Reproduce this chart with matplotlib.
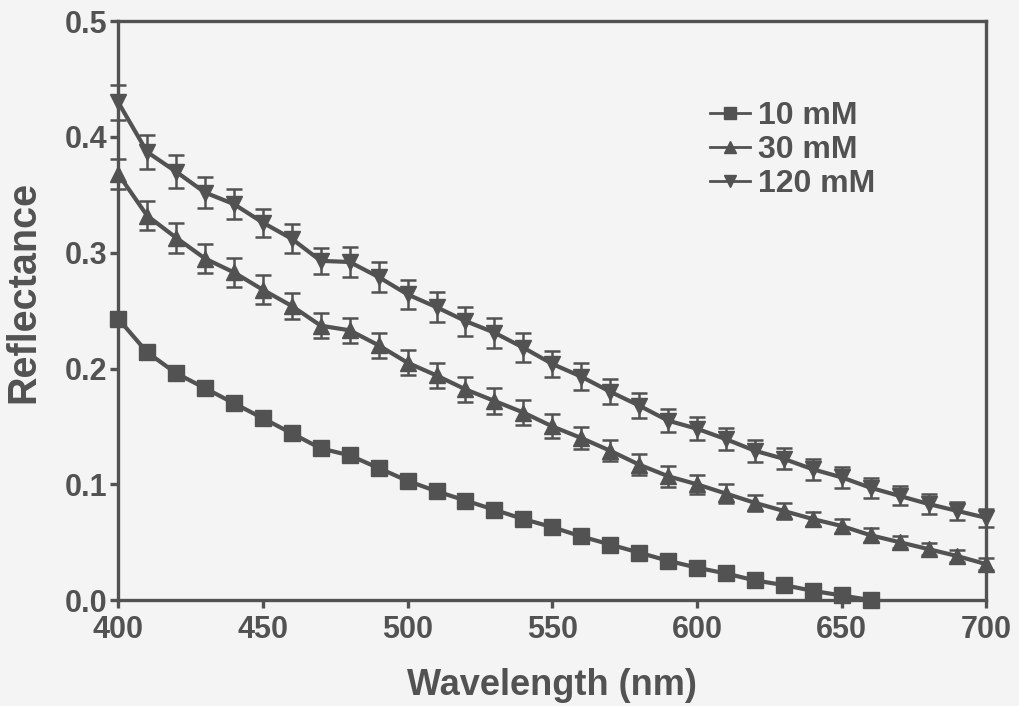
import numpy as np
import matplotlib.pyplot as plt

# wavelengths (nm)
wl = np.arange(400, 710, 10)
wl_10 = np.arange(400, 670, 10)

# reflectance
r_10 = [0.243, 0.214, 0.196, 0.183, 0.170, 0.157, 0.144, 0.131, 0.125, 0.114,
        0.103, 0.094, 0.086, 0.078, 0.070, 0.063, 0.055, 0.048, 0.041, 0.034,
        0.028, 0.023, 0.017, 0.013, 0.008, 0.004, 0.000]
r_30 = [0.368, 0.332, 0.313, 0.295, 0.283, 0.268, 0.254, 0.237, 0.233, 0.220,
        0.205, 0.194, 0.182, 0.172, 0.162, 0.150, 0.140, 0.129, 0.117, 0.107,
        0.100, 0.092, 0.084, 0.077, 0.070, 0.064, 0.056, 0.050, 0.044, 0.038,
        0.031]
r_120 = [0.430, 0.387, 0.370, 0.352, 0.342, 0.326, 0.312, 0.293, 0.292, 0.279,
         0.264, 0.253, 0.241, 0.231, 0.218, 0.204, 0.193, 0.180, 0.168, 0.155,
         0.148, 0.139, 0.129, 0.122, 0.113, 0.106, 0.097, 0.090, 0.083, 0.077,
         0.071]

# error bars (+/-)
e_10 = [0.003] * 27
e_30 = [0.013, 0.0125, 0.013, 0.0125, 0.0125, 0.0125, 0.0115, 0.011, 0.011, 0.011,
        0.011, 0.0108, 0.0105, 0.011, 0.0104, 0.0104, 0.0098, 0.009, 0.009, 0.009,
        0.008, 0.008, 0.007, 0.007, 0.006, 0.006, 0.006, 0.005, 0.005, 0.005,
        0.005]
e_120 = [0.015, 0.015, 0.014, 0.013, 0.013, 0.012, 0.0125, 0.0115, 0.013, 0.013,
         0.0125, 0.013, 0.0125, 0.013, 0.0127, 0.0115, 0.0115, 0.0107, 0.011, 0.0098,
         0.010, 0.0097, 0.0094, 0.009, 0.0092, 0.009, 0.0084, 0.0082, 0.0085, 0.008,
         0.008]

col = '#525252'
bg = '#f4f4f4'
plt.rcParams['font.family'] = ['Liberation Sans', 'DejaVu Sans']
plt.rcParams['font.weight'] = 'bold'

fig = plt.figure(figsize=(10.19, 7.06), dpi=100, facecolor=bg)
ax = fig.add_axes([0.116, 0.150, 0.852, 0.820], facecolor=bg)

series = [
    (wl_10, r_10, e_10, 's', 11, '10 mM'),
    (wl, r_30, e_30, '^', 12, '30 mM'),
    (wl, r_120, e_120, 'v', 12, '120 mM'),
]
for x, y, e, m, ms, lab in series:
    ax.errorbar(x, y, yerr=e, fmt='none', ecolor=col, elinewidth=1.8,
                capsize=6, capthick=1.8, clip_on=False, zorder=2)
    ax.plot(x, y, color=col, lw=3, marker=m, ms=ms, mec=col, mfc=col,
            label=lab, clip_on=False, zorder=3)

ax.set_xlim(400, 700)
ax.set_ylim(0, 0.5)
ax.set_xticks([400, 450, 500, 550, 600, 650, 700])
ax.set_yticks([0.0, 0.1, 0.2, 0.3, 0.4, 0.5])
ax.set_yticklabels(['0.0', '0.1', '0.2', '0.3', '0.4', '0.5'])

for s in ax.spines.values():
    s.set_color(col)
    s.set_linewidth(2.4)
ax.tick_params(direction='out', length=6, width=2.4, color=col,
               labelcolor=col, labelsize=22, pad=2)
ax.tick_params(axis='x', pad=5)
for t in ax.get_xticklabels() + ax.get_yticklabels():
    t.set_fontweight('bold')

ax.set_xlabel('Wavelength (nm)', fontsize=26, fontweight='bold', color=col,
              labelpad=16)
ax.set_ylabel('Reflectance', fontsize=28.5, fontweight='bold', color=col)
ax.yaxis.set_label_coords(-0.087, 0.533)

leg = ax.legend(loc='upper left', bbox_to_anchor=(0.682, 0.862), frameon=False,
                fontsize=23, borderpad=0, borderaxespad=0, handlelength=1.25,
                handletextpad=0.25, labelspacing=0.12, markerscale=0.75)
for t in leg.get_texts():
    t.set_color(col)
    t.set_fontweight('bold')
for h in leg.get_lines():
    h.set_linewidth(2)

fig.savefig('out.png', dpi=100, facecolor=bg)
